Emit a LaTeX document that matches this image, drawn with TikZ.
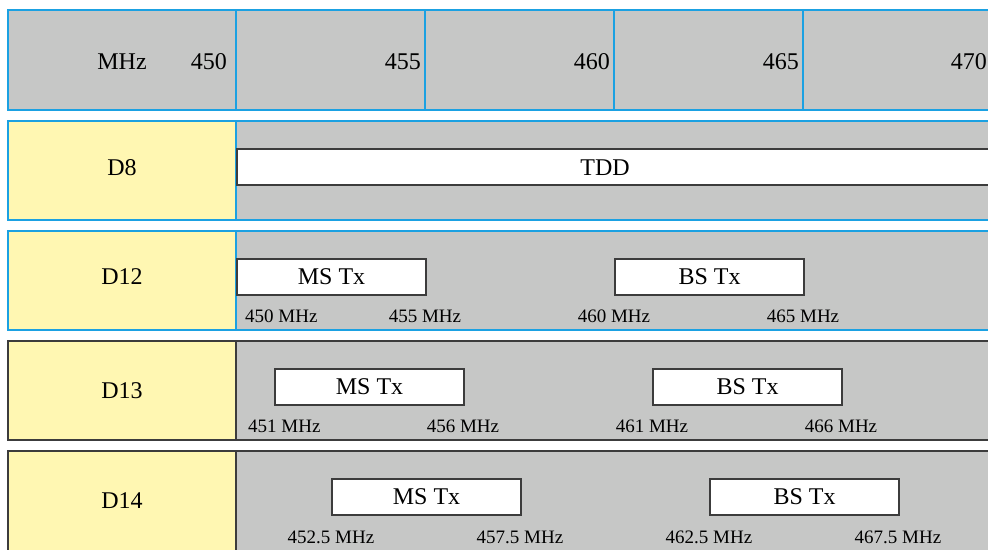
\documentclass[tikz,border=0pt]{standalone}
\usepackage{fontspec}
\setmainfont{Liberation Serif}
\definecolor{cgray}{HTML}{C6C7C6}
\definecolor{cyel}{HTML}{FFF7B2}
\definecolor{cblue}{HTML}{1BA1E2}
\definecolor{cdark}{HTML}{3C3C3C}
\begin{document}
\begin{tikzpicture}[x=1pt,y=-1pt,
  big/.style={font=\fontsize{24}{28}\selectfont, inner sep=0pt},
  small/.style={font=\fontsize{19}{22}\selectfont, inner sep=0pt, anchor=base},
  txbox/.style={draw=cdark, line width=2pt, fill=white, minimum width=189pt, minimum height=36pt, inner sep=0pt, anchor=north west, font=\fontsize{24}{28}\selectfont},
  blueline/.style={draw=cblue, line width=2pt},
  darkline/.style={draw=cdark, line width=2pt}]
\useasboundingbox (0,0) rectangle (988,549);
\clip (0,0) rectangle (988,549);
% header row
\fill[cgray] (8,10) rectangle (1000,110);
\draw[blueline] (8,10) rectangle (1000,110);
\foreach \x in {236,425,614,803,992} \draw[blueline] (\x,10) -- (\x,110);
\node[big, anchor=base] (mhz) at (122,69) {MHz};
\node[big, anchor=base east] (f450) at (227,69) {450};
\node[big, anchor=base east] (f455) at (421,69) {455};
\node[big, anchor=base east] (f460) at (610,69) {460};
\node[big, anchor=base east] (f465) at (799,69) {465};
\node[big, anchor=base east] (f470) at (987,69) {470};
% D8
\fill[cyel] (8,121) rectangle (236,220);
\fill[cgray] (236,121) rectangle (1000,220);
\draw[blueline] (8,121) rectangle (1000,220);
\draw[blueline] (236,121) -- (236,220);
\node[big] (d8) at (122,168) {D8};
\node[txbox, minimum width=770pt] (tdd) at (236,148) {};
\node[big] (tddt) at (605,168) {TDD};
% D12
\fill[cyel] (8,231) rectangle (236,330);
\fill[cgray] (236,231) rectangle (1000,330);
\draw[blueline] (8,231) rectangle (1000,330);
\draw[blueline] (236,231) -- (236,330);
\node[big] (d12) at (122,277) {D12};
\node[txbox] (ms12) at (236,258) {MS Tx};
\node[txbox] (bs12) at (614,258) {BS Tx};
\node[small, anchor=base west] (l450) at (245,322) {450 MHz};
\node[small] (l455) at (425,322) {455 MHz};
\node[small] (l460) at (614,322) {460 MHz};
\node[small] (l465) at (803,322) {465 MHz};
% D13
\fill[cyel] (8,341) rectangle (236,440);
\fill[cgray] (236,341) rectangle (1000,440);
\draw[darkline] (8,341) rectangle (1000,440);
\draw[darkline] (236,341) -- (236,440);
\node[big] (d13) at (122,391) {D13};
\node[txbox] (ms13) at (274,368) {MS Tx};
\node[txbox] (bs13) at (652,368) {BS Tx};
\node[small, anchor=base west] (l451) at (248,432) {451 MHz};
\node[small] (l456) at (463,432) {456 MHz};
\node[small] (l461) at (652,432) {461 MHz};
\node[small] (l466) at (841,432) {466 MHz};
% D14
\fill[cyel] (8,451) rectangle (236,560);
\fill[cgray] (236,451) rectangle (1000,560);
\draw[darkline] (8,451) rectangle (1000,560);
\draw[darkline] (236,451) -- (236,560);
\node[big] (d14) at (122,501) {D14};
\node[txbox] (ms14) at (331,478) {MS Tx};
\node[txbox] (bs14) at (709,478) {BS Tx};
\node[small] (l4525) at (331,543) {452.5 MHz};
\node[small] (l4575) at (520,543) {457.5 MHz};
\node[small] (l4625) at (709,543) {462.5 MHz};
\node[small] (l4675) at (898,543) {467.5 MHz};
\end{tikzpicture}
\end{document}
